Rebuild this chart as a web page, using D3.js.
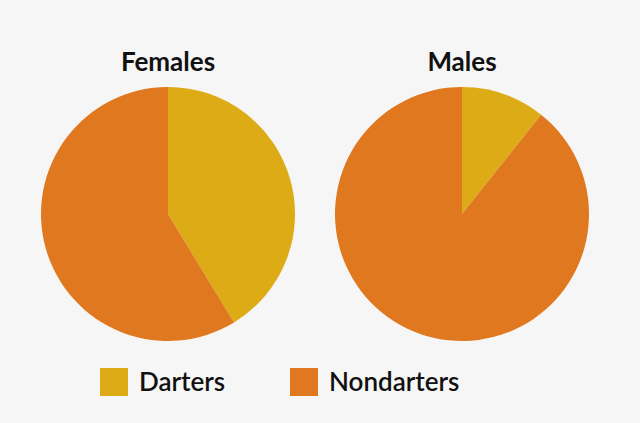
<!DOCTYPE html>
<html><head><meta charset="utf-8">
<script src="https://cdn.jsdelivr.net/npm/d3@7"></script>
<style>body{margin:0;background:#f6f6f6;}</style>
</head><body><div class="chart"></div>
<script>
const groups = ["Females", "Males"];
const categories = ["Darters", "Nondarters"];
const darters = [41.3, 10.7];
const nondarters = [58.7, 89.3];
const colors = ["#dcab15", "#e0781f"];

const w = 640, h = 423;
const svg = d3.select(".chart").append("svg")
    .attr("width", w).attr("height", h)
    .style("font-family", "Lato, sans-serif");
svg.append("rect").attr("width", w).attr("height", h).attr("fill", "#f6f6f6");

const color = d3.scaleOrdinal().domain(categories).range(colors);
const cx = d3.scalePoint().domain(groups).range([168, 462]);
const pie = d3.pie().sort(null).value(d => d.v);
const arc = d3.arc().innerRadius(0).outerRadius(127);

groups.forEach((g, i) => {
    const data = [{k: categories[0], v: darters[i]}, {k: categories[1], v: nondarters[i]}];
    const grp = svg.append("g").attr("transform", `translate(${cx(g)},214)`);
    grp.selectAll("path").data(pie(data)).enter().append("path")
        .attr("d", arc).attr("fill", d => color(d.data.k));
    svg.append("text").attr("x", cx(g)).attr("y", 71)
        .attr("text-anchor", "middle").attr("font-weight", "bold")
        .attr("font-size", 26).attr("fill", "#111").text(g);
});

//legend
const legX = [100, 290];
categories.forEach((c, i) => {
    svg.append("rect").attr("x", legX[i]).attr("y", 368).attr("width", 28).attr("height", 28)
        .attr("fill", color(c));
    svg.append("text").attr("x", legX[i] + 39).attr("y", 391)
        .attr("font-size", 26).attr("font-weight", 600).attr("fill", "#111").text(c);
});
</script></body></html>
